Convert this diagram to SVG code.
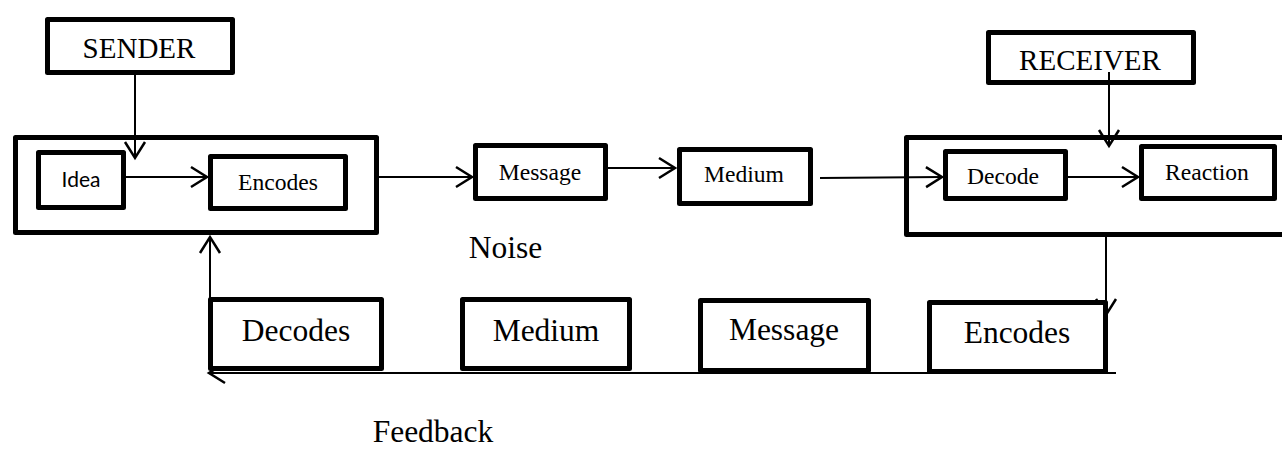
<svg xmlns="http://www.w3.org/2000/svg" width="1282" height="451" viewBox="0 0 1282 451">
<style>
.box{fill:#fff;stroke:#000;stroke-width:5;stroke-linejoin:round}
.outer{fill:none;stroke:#000;stroke-width:5;stroke-linejoin:round}
.lbl{font-family:"Liberation Serif","Times New Roman",serif;fill:#000;text-anchor:middle}
.sm{font-size:23.6px}
.lg{font-size:31.5px}
.hd{font-size:29px}
.sans{font-family:Lato,"Liberation Sans",sans-serif;font-size:21px;fill:#000;text-anchor:middle}
.con{fill:none;stroke:#000;stroke-width:2}
</style>
<defs>
<marker id="arr" markerUnits="userSpaceOnUse" viewBox="-2 -2 20 24" refX="16" refY="10" markerWidth="20" markerHeight="24" orient="auto" overflow="visible">
<path d="M0,0 L16,10 L0,20" fill="none" stroke="#000" stroke-width="2.5" stroke-linejoin="miter"/>
</marker>
</defs>
<rect width="1282" height="451" fill="#fff"/>
<g id="sender-group"><rect class="outer" x="15.5" y="137.5" width="361" height="95"/></g>
<g id="receiver-group"><rect class="outer" x="906.5" y="137.5" width="400" height="97"/></g>
<g id="connectors">
<line class="con" x1="135" y1="75" x2="135" y2="158" marker-end="url(#arr)"/>
<line class="con" x1="126" y1="177" x2="207" y2="177" marker-end="url(#arr)"/>
<line class="con" x1="379" y1="177" x2="472" y2="177" marker-end="url(#arr)"/>
<line class="con" x1="608" y1="168" x2="675" y2="168" marker-end="url(#arr)"/>
<line class="con" x1="820" y1="178" x2="942" y2="177" marker-end="url(#arr)"/>
<line class="con" x1="1109" y1="72" x2="1109" y2="146" marker-end="url(#arr)"/>
<line class="con" x1="1068" y1="177" x2="1138" y2="177" marker-end="url(#arr)"/>
<line class="con" x1="1106" y1="237" x2="1106" y2="315" marker-end="url(#arr)"/>
<line class="con" x1="1116" y1="373" x2="209" y2="373" marker-end="url(#arr)"/>
<line class="con" x1="210" y1="299" x2="210" y2="237" marker-end="url(#arr)"/>
</g>
<g id="sender"><rect class="box" x="47.5" y="19.5" width="185" height="53"/><text class="lbl hd" x="139" y="58">SENDER</text></g>
<g id="idea"><rect class="box" x="38.5" y="152.5" width="85" height="55"/><text class="sans" x="81" y="187">Idea</text></g>
<g id="encodes"><rect class="box" x="210.5" y="156.5" width="135" height="52"/><text class="lbl sm" x="278" y="190">Encodes</text></g>
<g id="message"><rect class="box" x="475.5" y="145.5" width="130" height="53"/><text class="lbl sm" x="540" y="180">Message</text></g>
<g id="medium"><rect class="box" x="679.5" y="149.5" width="131" height="54"/><text class="lbl sm" x="744" y="182">Medium</text></g>
<g id="receiver"><rect class="box" x="988.5" y="32.5" width="205" height="50"/><text class="lbl hd" x="1090" y="70">RECEIVER</text></g>
<line class="con" x1="1109" y1="72" x2="1109" y2="85"/>
<g id="decode"><rect class="box" x="945.5" y="151.5" width="120" height="47"/><text class="lbl sm" x="1003" y="184">Decode</text></g>
<g id="reaction"><rect class="box" x="1141.5" y="146.5" width="133" height="52"/><text class="lbl sm" x="1207" y="180">Reaction</text></g>
<g id="noise"><text class="lbl lg" x="505.5" y="258">Noise</text></g>
<g id="fb-decodes"><rect class="box" x="210.5" y="299.5" width="171" height="69"/><text class="lbl lg" x="296" y="341">Decodes</text></g>
<g id="fb-medium"><rect class="box" x="462.5" y="299.5" width="167" height="69"/><text class="lbl lg" x="546" y="341">Medium</text></g>
<g id="fb-message"><rect class="box" x="700.5" y="300.5" width="168" height="70"/><text class="lbl lg" x="784" y="340">Message</text></g>
<g id="fb-encodes"><rect class="box" x="929.5" y="302.5" width="176" height="69"/><text class="lbl lg" x="1017" y="343">Encodes</text></g>
<line class="con" x1="1106" y1="300" x2="1106" y2="315"/>
<g id="feedback"><text class="lbl lg" x="433" y="442">Feedback</text></g>
</svg>
